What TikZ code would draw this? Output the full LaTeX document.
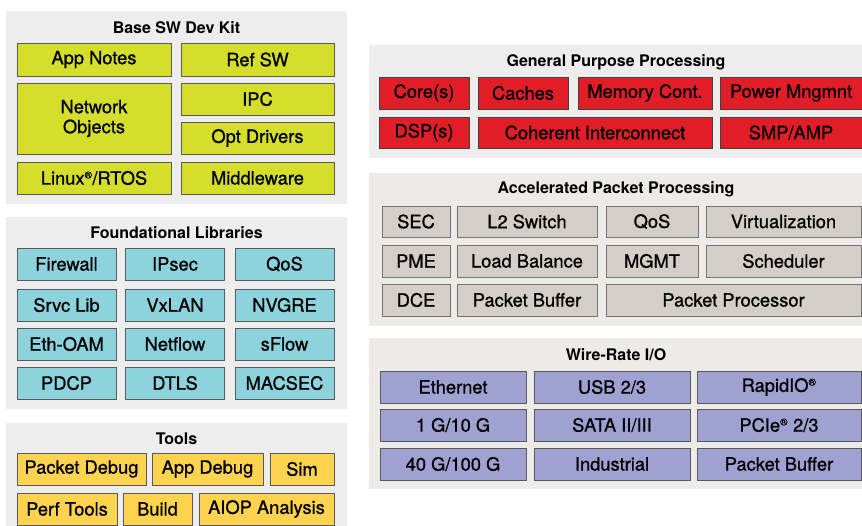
\documentclass[tikz,border=0pt]{standalone}
\usepackage{fontspec}
\setmainfont{TeX Gyre Heros}
\newfontfamily\boxfont{TeX Gyre Heros}[FakeBold=0.9]
\definecolor{panelA}{HTML}{EDEDED}
\definecolor{panelB}{HTML}{EDEBE8}
\definecolor{cYel}{HTML}{D5DF2B}
\definecolor{cCyan}{HTML}{8DD3DE}
\definecolor{cGold}{HTML}{FDD34F}
\definecolor{cRed}{HTML}{E11D27}
\definecolor{cTan}{HTML}{D4CEC8}
\definecolor{cLav}{HTML}{A0A1D3}
\definecolor{cEdge}{HTML}{5A5A5A}
\tikzset{
  panel/.style={fill=#1, draw=none},
  ptitle/.style={font=\fontsize{16}{18}\selectfont\bfseries, inner sep=0pt},
  box/.style={draw=cEdge, line width=0.8pt, fill=#1, inner sep=0pt, outer sep=0pt,
    font=\boxfont\fontsize{18.3}{20}\selectfont, align=center},
}
\newcommand{\reg}{\textsuperscript{\fontsize{10}{10}\selectfont ®}}
\begin{document}
\begin{tikzpicture}[x=1pt,y=-1pt]
\useasboundingbox (0,0) rectangle (862,525);
\clip (0,0) rectangle (862,525);
% panels
\fill[panel=panelA] (6,11) rectangle (347,204);
\fill[panel=panelA] (6,217) rectangle (347,409);
\fill[panel=panelA] (6,423) rectangle (347,530);
\fill[panel=panelA] (369,45) rectangle (870,158);
\fill[panel=panelB] (369,173) rectangle (870,326);
\fill[panel=panelB] (369,338) rectangle (870,489);
% titles
\node[ptitle] (t1) at (176.5,28) {Base SW Dev Kit};
\node[ptitle] (t2) at (176.5,233) {Foundational Libraries};
\node[ptitle] (t3) at (176.5,439) {Tools};
\node[ptitle] (t4) at (616,62) {General Purpose Processing};
\node[ptitle] (t5) at (616,189) {Accelerated Packet Processing};
\node[ptitle] (t6) at (616,355) {Wire-Rate I/O};
% Base SW Dev Kit
\node[box=cYel, minimum width=154, minimum height=33] (appnotes) at (94,59.5) {App Notes};
\node[box=cYel, minimum width=153, minimum height=33] (refsw) at (257.5,59.5) {Ref SW};
\node[box=cYel, minimum width=154, minimum height=71] (netobj) at (94,118.5) {Network\\Objects};
\node[box=cYel, minimum width=153, minimum height=32] (ipc) at (257.5,99) {IPC};
\node[box=cYel, minimum width=153, minimum height=32] (optdrv) at (257.5,138) {Opt Drivers};
\node[box=cYel, minimum width=154, minimum height=32] (linux) at (94,178) {Linux\reg/RTOS};
\node[box=cYel, minimum width=153, minimum height=32] (mw) at (257.5,178) {Middleware};
% Foundational Libraries
\tikzset{fl/.style={box=cCyan, minimum width=99, minimum height=32}}
\node[fl] (fw) at (66.5,264) {Firewall};
\node[fl] (ipsec) at (175,264) {IPsec};
\node[fl] (qos1) at (284.5,264) {QoS};
\node[fl] (srvc) at (66.5,305) {Srvc Lib};
\node[fl] (vxlan) at (175,305) {VxLAN};
\node[fl] (nvgre) at (284.5,305) {NVGRE};
\node[fl] (ethoam) at (66.5,344) {Eth-OAM};
\node[fl] (netflow) at (175,344) {Netflow};
\node[fl] (sflow) at (284.5,344) {sFlow};
\node[fl] (pdcp) at (66.5,383) {PDCP};
\node[fl] (dtls) at (175,383) {DTLS};
\node[fl] (macsec) at (284.5,383) {MACSEC};
% Tools
\tikzset{tl/.style={box=cGold, minimum height=32}}
\node[tl, minimum width=129] (pktdbg) at (81.5,469) {Packet Debug};
\node[tl, minimum width=111] (appdbg) at (207.5,469) {App Debug};
\node[tl, minimum width=64] (sim) at (302,469) {Sim};
\node[tl, minimum width=100] (perf) at (67,509) {Perf Tools};
\node[tl, minimum width=69] (build) at (157.5,509) {Build};
\node[tl, minimum width=135] (aiop) at (266.5,509) {AIOP Analysis};
% General Purpose Processing
\tikzset{gp/.style={box=cRed, draw=black!75, minimum height=32}}
\node[gp, minimum width=90] (core) at (424,93) {Core(s)};
\node[gp, minimum width=90] (caches) at (523,93) {Caches};
\node[gp, minimum width=134] (memc) at (645,93) {Memory Cont.};
\node[gp, minimum width=142] (power) at (791,93) {Power Mngmnt};
\node[gp, minimum width=90, minimum height=31] (dsp) at (424,132.5) {DSP(s)};
\node[gp, minimum width=234, minimum height=31] (coh) at (595,132.5) {Coherent Interconnect};
\node[gp, minimum width=142, minimum height=31] (smp) at (791,132.5) {SMP/AMP};
% Accelerated Packet Processing
\tikzset{ap/.style={box=cTan, draw=black!55, minimum height=32}}
\node[ap, minimum width=68, minimum height=31] (sec) at (416,221.5) {SEC};
\node[ap, minimum width=140, minimum height=31] (l2) at (527,221.5) {L2 Switch};
\node[ap, minimum width=92, minimum height=31] (qos2) at (652,221.5) {QoS};
\node[ap, minimum width=155, minimum height=31] (virt) at (783.5,221.5) {Virtualization};
\node[ap, minimum width=68] (pme) at (416,261) {PME};
\node[ap, minimum width=140] (lb) at (527,261) {Load Balance};
\node[ap, minimum width=92] (mgmt) at (652,261) {MGMT};
\node[ap, minimum width=155] (sched) at (783.5,261) {Scheduler};
\node[ap, minimum width=68] (dce) at (416,300) {DCE};
\node[ap, minimum width=140] (pbuf1) at (527,300) {Packet Buffer};
\node[ap, minimum width=255] (pproc) at (733.5,300) {Packet Processor};
% Wire-Rate I/O
\tikzset{wr/.style={box=cLav, draw=black!65, minimum height=32}}
\node[wr, minimum width=146] (eth) at (453,387) {Ethernet};
\node[wr, minimum width=156] (usb) at (612,387) {USB 2/3};
\node[wr, minimum width=164] (rio) at (779,387) {RapidIO\reg};
\node[wr, minimum width=146] (g10) at (453,425) {1 G/10 G};
\node[wr, minimum width=156] (sata) at (612,425) {SATA II/III};
\node[wr, minimum width=164] (pcie) at (779,425) {PCIe\reg{} 2/3};
\node[wr, minimum width=146] (g100) at (453,464) {40 G/100 G};
\node[wr, minimum width=156] (ind) at (612,464) {Industrial};
\node[wr, minimum width=164] (pbuf2) at (779,464) {Packet Buffer};
\end{tikzpicture}
\end{document}
